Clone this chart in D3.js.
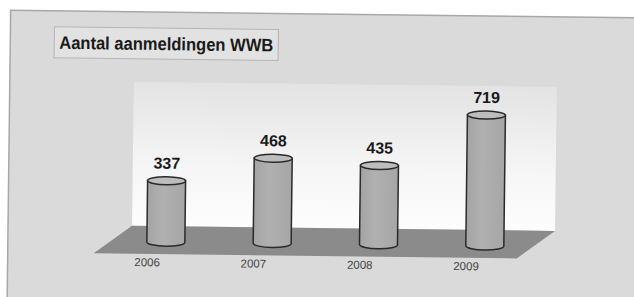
<!DOCTYPE html>
<html>
<head>
<meta charset="utf-8">
<style>
  body { margin: 0; background: #fff; }
  svg { display: block; }
</style>
</head>
<body>
<script src="https://cdn.jsdelivr.net/npm/d3@7"></script>
<svg id="chart" width="634" height="297"></svg>
<script>
// data
var years = ["2006", "2007", "2008", "2009"];
var counts = [337, 468, 435, 719];
var chartTitle = "Aantal aanmeldingen WWB";

var svg = d3.select("#chart");

// gradient for the back wall
var defs = svg.append("defs");
var wallGrad = defs.append("linearGradient").attr("id", "wall")
  .attr("x1", 0).attr("y1", 0).attr("x2", 0).attr("y2", 1);
wallGrad.append("stop").attr("offset", "0%").attr("stop-color", "#e3e3e3");
wallGrad.append("stop").attr("offset", "60%").attr("stop-color", "#f6f6f6");
wallGrad.append("stop").attr("offset", "100%").attr("stop-color", "#fdfdfd");

var cylGrad = defs.append("linearGradient").attr("id", "cyl")
  .attr("x1", 0).attr("y1", 0).attr("x2", 1).attr("y2", 0);
cylGrad.append("stop").attr("offset", "0%").attr("stop-color", "#a4a4a4");
cylGrad.append("stop").attr("offset", "40%").attr("stop-color", "#b0b0b0");
cylGrad.append("stop").attr("offset", "100%").attr("stop-color", "#a6a6a6");

// whole scan is tilted a little
var g = svg.append("g").attr("transform", "rotate(0.7 317 148)");

// outer frame
g.append("rect")
  .attr("x", 9).attr("y", 14).attr("width", 660).attr("height", 300)
  .attr("fill", "#dadada").attr("stroke", "#a8a8a8").attr("stroke-width", 1.5);

// title box
g.append("rect")
  .attr("x", 53).attr("y", 30).attr("width", 224).attr("height", 31)
  .attr("fill", "#e2e2e2").attr("stroke", "#b5b5b5").attr("stroke-width", 1);
g.append("text")
  .attr("x", 58).attr("y", 52)
  .attr("font-family", "Liberation Sans, Arial, sans-serif")
  .attr("font-weight", "bold").attr("font-size", 18)
  .attr("textLength", 214).attr("lengthAdjust", "spacingAndGlyphs")
  .attr("fill", "#1a1a1a")
  .text(chartTitle);

// 3d box geometry
var wallLeft = 133, wallRight = 556, wallTop = 84, floorBack = 228, floorFront = 256;
var depthShift = 38;

g.append("rect")
  .attr("x", wallLeft).attr("y", wallTop)
  .attr("width", wallRight - wallLeft).attr("height", floorBack - wallTop)
  .attr("fill", "url(#wall)");

g.append("path")
  .attr("d", d3.line()([
    [wallLeft, floorBack], [wallRight, floorBack],
    [wallRight - depthShift, floorFront], [wallLeft - depthShift, floorFront]
  ]))
  .attr("fill", "#8b8b8b");

// scales
var x = d3.scalePoint().domain(years).range([167, 486]);
var baseY = 244;
var y = d3.scaleLinear().domain([0, 719]).range([baseY, baseY - 131]);

var rx = 19, ry = 4;

var bars = g.selectAll(".cyl").data(years).enter().append("g").attr("class", "cyl");

bars.append("path")
  .attr("d", function(d, i) {
    var cx = x(d), top = y(counts[i]);
    return "M" + (cx - rx) + "," + top +
      "L" + (cx - rx) + "," + baseY +
      "A" + rx + "," + ry + " 0 0 0 " + (cx + rx) + "," + baseY +
      "L" + (cx + rx) + "," + top + "Z";
  })
  .attr("fill", "url(#cyl)").attr("stroke", "#2a2a2a").attr("stroke-width", 1.5);

bars.append("ellipse")
  .attr("cx", function(d) { return x(d); })
  .attr("cy", function(d, i) { return y(counts[i]); })
  .attr("rx", rx).attr("ry", ry)
  .attr("fill", "#bdbdbd").attr("stroke", "#2a2a2a").attr("stroke-width", 1.5);

// value labels
bars.append("text")
  .attr("x", function(d) { return x(d); })
  .attr("y", function(d, i) { return y(counts[i]) - 12; })
  .attr("text-anchor", "middle")
  .attr("font-family", "Liberation Sans, Arial, sans-serif")
  .attr("font-weight", "bold").attr("font-size", 16)
  .attr("fill", "#1a1a1a")
  .text(function(d, i) { return counts[i]; });

// category axis along the front edge of the floor
var axis = d3.axisBottom(x).tickSize(0).tickPadding(0);
var axisG = g.append("g")
  .attr("transform", "translate(-19," + (floorFront + 2) + ")")
  .call(axis);
axisG.select(".domain").remove();
axisG.selectAll("text")
  .attr("dy", "0.9em")
  .attr("font-family", "Liberation Sans, Arial, sans-serif")
  .attr("font-size", 11.5)
  .attr("fill", "#444");
</script>
</body>
</html>
